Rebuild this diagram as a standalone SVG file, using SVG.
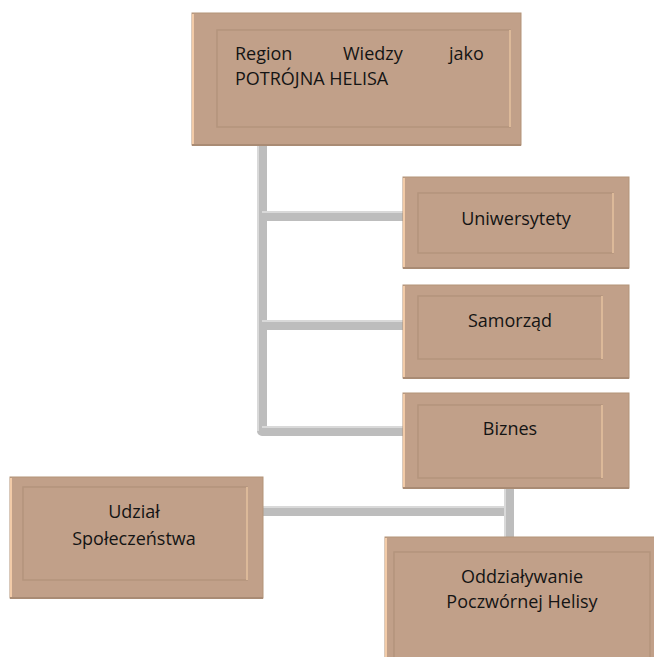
<svg xmlns="http://www.w3.org/2000/svg" width="654" height="657" viewBox="0 0 654 657">
<style>
.ob{fill:#c1a089;stroke:#b39479;stroke-width:1}
.ol{stroke:#f2cba8;stroke-width:2}
.os{stroke:#a98b74;stroke-width:2}
.ib{fill:#c1a089;stroke:#b4957d;stroke-width:1.6}
.ih{stroke:#dcb999;stroke-width:2}
.t{font-family:"Open Sans","Noto Sans",sans-serif;font-size:18px;fill:#141414}
.c{text-anchor:middle}
.cn{fill:none;stroke:#bdbdbd;stroke-width:10;stroke-linejoin:round}
.ch{fill:none;stroke:#d9d9d9;stroke-width:2;stroke-linejoin:round}
</style>
<rect width="654" height="657" fill="#ffffff"/>
<g id="connectors">
<path class="cn" d="M262,145 V431 H403 M262,216 H403 M262,325 H403"/>
<path class="ch" d="M258,145 V431 M262,212 H403 M262,321 H403 M262,427 H403"/>
<path class="cn" d="M509,488 V537 M263,511 H509"/>
<path class="ch" d="M505,488 V537 M263,507 H505"/>
</g>
<g id="n-top">
<rect class="ob" x="192" y="13" width="329" height="132"/>
<line class="ol" x1="193" y1="14" x2="193" y2="144"/>
<line class="os" x1="192" y1="145" x2="521" y2="145"/>
<rect class="ib" x="217" y="30" width="293" height="97"/>
<line class="ih" x1="510" y1="30" x2="510" y2="127"/>
<text class="t" y="60"><tspan x="235">Region</tspan><tspan x="343">Wiedzy</tspan><tspan x="449">jako</tspan></text>
<text class="t" x="235" y="85">POTRÓJNA HELISA</text>
</g>
<g id="n-uni">
<rect class="ob" x="403" y="177" width="226" height="91"/>
<line class="ol" x1="404" y1="178" x2="404" y2="267"/>
<line class="os" x1="403" y1="268" x2="629" y2="268"/>
<rect class="ib" x="418" y="193" width="195" height="60"/>
<line class="ih" x1="613" y1="193" x2="613" y2="253"/>
<text class="t c" x="516" y="225">Uniwersytety</text>
</g>
<g id="n-sam">
<rect class="ob" x="403" y="285" width="226" height="93"/>
<line class="ol" x1="404" y1="286" x2="404" y2="377"/>
<line class="os" x1="403" y1="378" x2="629" y2="378"/>
<rect class="ib" x="418" y="296" width="184" height="63"/>
<line class="ih" x1="602" y1="296" x2="602" y2="359"/>
<text class="t c" x="510" y="327">Samorząd</text>
</g>
<g id="n-biz">
<rect class="ob" x="403" y="393" width="226" height="95"/>
<line class="ol" x1="404" y1="394" x2="404" y2="487"/>
<line class="os" x1="403" y1="488" x2="629" y2="488"/>
<rect class="ib" x="418" y="405" width="184" height="73"/>
<line class="ih" x1="602" y1="405" x2="602" y2="478"/>
<text class="t c" x="510" y="435">Biznes</text>
</g>
<g id="n-udz">
<rect class="ob" x="10" y="477" width="253" height="121"/>
<line class="ol" x1="11" y1="478" x2="11" y2="597"/>
<line class="os" x1="10" y1="598" x2="263" y2="598"/>
<rect class="ib" x="23" y="487" width="224" height="93"/>
<line class="ih" x1="247" y1="487" x2="247" y2="580"/>
<text class="t c" x="134" y="518">Udział</text>
<text class="t c" x="134" y="545">Społeczeństwa</text>
</g>
<g id="n-odd">
<rect class="ob" x="385" y="537" width="275" height="130"/>
<line class="ol" x1="386" y1="538" x2="386" y2="657"/>
<rect class="ib" x="394" y="552" width="256" height="120"/>
<text class="t c" x="522" y="583">Oddziaływanie</text>
<text class="t c" x="522" y="608">Poczwórnej Helisy</text>
</g>
</svg>
